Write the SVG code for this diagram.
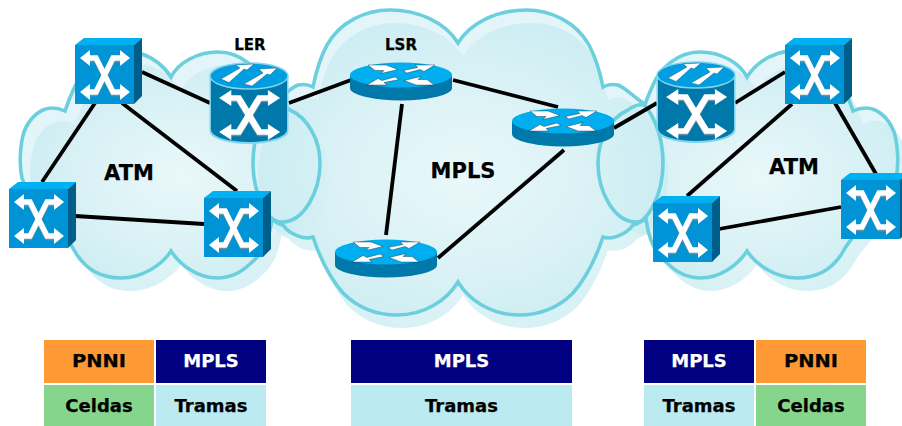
<svg xmlns="http://www.w3.org/2000/svg" xmlns:xlink="http://www.w3.org/1999/xlink" width="902" height="426" viewBox="0 0 902 426">
<style>
text{font-family:"DejaVu Sans","Liberation Sans",sans-serif;font-weight:bold;text-anchor:middle;fill:#000;stroke:#000;stroke-width:.25px}
.big{font-size:21px}.sm{font-size:15px}.tb{font-size:18px}
text.w{fill:#fff;stroke:#fff}
.edge{fill:none;stroke:#6ccfde;stroke-width:3.6}
.rim{fill:#d9f2f6;opacity:.75}
.shade{fill:url(#cg);opacity:.7}
.conn line{stroke:#000;stroke-width:3.8}
.glyph{fill:none;stroke:#fff;stroke-width:5.5}
.gsh{fill:none;stroke:#6f8ea0;stroke-width:5.5}
</style>
<defs>
<radialGradient id="cg" cx=".5" cy=".5" r=".55"><stop offset="0" stop-color="#ecf9fb"/><stop offset=".6" stop-color="#d5f0f4"/><stop offset="1" stop-color="#c2eaf0"/></radialGradient>
<path id="atmc" d="M171,77C178,63 197,52 218,52C240,52 258,68 265,85C268,92 271,98 273,105C280,104 285,106 290,110C308,118 320,140 320,163C320,192 304,221 283,222C279,222 275,221 272,219C270,235 265,252 251,263C240,274 228,278 217,278C198,278 180,265 171,251C162,265 142,278 121,278C100,278 84,268 74,250C62,228 30,205 22,178C19,165 20,145 24,132C30,116 42,108 52,108C57,108 61,109 65,111C72,90 85,62 106,52C125,47 155,52 171,77Z"/>
<path id="mplsc" d="M458,43C445,22 418,10 390,10C365,10 340,22 327,45C320,58 316,72 313,87C308,84 304,84 298,85C292,87 288,92 273,103C260,118 253,140 253,163C253,195 268,222 283,225C290,235 305,240 313,237C320,258 330,278 343,293C358,308 377,315 397,315C425,315 447,300 458,282C469,300 491,315 519,315C539,315 558,308 573,293C586,278 596,258 603,237C611,240 626,235 633,225C648,222 663,195 663,163C663,140 656,118 643,103C628,92 624,87 618,85C612,84 608,84 603,87C600,72 596,58 589,45C576,22 551,10 526,10C498,10 471,22 458,43Z"/>
<g id="xg"><path class="gsh" transform="translate(0,1.5)" d="M12,13H21L38,47H48M48,13H38L21,47H12"/><path class="glyph" d="M12,13H21L38,47H48M48,13H38L21,47H12"/><path fill="#fff" d="M15,5V21L5,13ZM15,39V55L5,47ZM45,5V21L55,13ZM45,39V55L55,47Z"/></g>
<g id="sw"><path fill="#00b0f0" d="M0,0L9,-7H67L59,0Z"/><path fill="#005f8a" d="M59,0L67,-7V51L59,59Z"/><rect width="59" height="59" fill="#0093d6"/><use xlink:href="#xg" href="#xg"/></g>
<path id="arrIn" d="M-33,-10L-15,-10L-3,-5.500L-20,-1.500L-17,-4.500L-26,-4.500Z" fill="#fff" stroke="#123" stroke-width=".4"/>
<path id="arrOut" d="M34,-10L14,-10L17,-7.500L2,-4.500L6,-2L19,-5.500L23,-3.500Z" fill="#fff" stroke="#123" stroke-width=".4"/>
<g id="rt"><path d="M-51,0V13A51,12.500 0 0 0 51,13V0Z" fill="#0079aa"/><ellipse rx="51" ry="12.500" fill="#00aeef"/><use href="#arrIn" xlink:href="#arrIn"/><use href="#arrOut" xlink:href="#arrOut"/><use href="#arrOut" xlink:href="#arrOut" transform="rotate(180)"/><use href="#arrIn" xlink:href="#arrIn" transform="rotate(180)"/></g>
<g id="lr"><path d="M-39.500,0V55A39.500,13 0 0 0 39.500,55V0Z" fill="#7fd4ef"/><path d="M-38,0V54A38,12 0 0 0 38,54V0Z" fill="#0079aa"/><ellipse rx="39" ry="13" fill="#009ee0" stroke="#7fd4ef" stroke-width="1.500"/><path d="M-28,3L-9,-8L-13,-11L5,-12L-2,-6L-5,-7L-20,6.500ZM-5,8L14,-3L10,-7L28,-8L21,-1L18,-2L3,10Z" fill="#fff" stroke="#0b4a6b" stroke-width=".4"/><use href="#xg" xlink:href="#xg" transform="translate(-36,9) scale(1.22,1)"/></g>
</defs>

<g id="clouds">
<use href="#atmc" xlink:href="#atmc" class="rim"/>
<use href="#atmc" xlink:href="#atmc" class="shade" transform="translate(10,13)"/>
<use href="#atmc" xlink:href="#atmc" class="rim" transform="translate(918,0) scale(-1,1)"/>
<use href="#atmc" xlink:href="#atmc" class="shade" transform="translate(928,13) scale(-1,1)"/>
<use href="#mplsc" xlink:href="#mplsc" class="rim"/>
<use href="#mplsc" xlink:href="#mplsc" class="shade" transform="translate(5,13)"/>
<use href="#atmc" xlink:href="#atmc" class="edge"/>
<use href="#atmc" xlink:href="#atmc" class="edge" transform="translate(918,0) scale(-1,1)"/>
<use href="#mplsc" xlink:href="#mplsc" class="edge"/>
</g>

<g id="connectors" class="conn">
<line x1="142" y1="72" x2="210" y2="103"/>
<line x1="95" y1="103" x2="42" y2="182"/>
<line x1="122" y1="103" x2="237" y2="191"/>
<line x1="75" y1="216" x2="204" y2="224"/>
<line x1="289" y1="103" x2="351" y2="80"/>
<line x1="453" y1="80" x2="558" y2="107"/>
<line x1="402" y1="104" x2="386" y2="235"/>
<line x1="564" y1="150" x2="438" y2="258"/>
<line x1="614" y1="128" x2="657" y2="103"/>
<line x1="735" y1="103" x2="785" y2="72"/>
<line x1="792" y1="104" x2="687" y2="196"/>
<line x1="835" y1="103" x2="876" y2="174"/>
<line x1="719" y1="229" x2="841" y2="207"/>
</g>

<g id="atm-l1"><use href="#sw" xlink:href="#sw" x="75" y="45"/></g>
<g id="atm-l2"><use href="#sw" xlink:href="#sw" x="9" y="189"/></g>
<g id="atm-l3"><use href="#sw" xlink:href="#sw" x="204" y="198"/></g>
<g id="ler-l"><use href="#lr" xlink:href="#lr" x="249" y="76"/><text class="sm" x="250" y="50">LER</text></g>
<g id="lsr-1"><use href="#rt" xlink:href="#rt" x="401" y="75"/><text class="sm" x="401" y="50">LSR</text></g>
<g id="lsr-2"><use href="#rt" xlink:href="#rt" x="563" y="121"/></g>
<g id="lsr-3"><use href="#rt" xlink:href="#rt" x="386" y="252"/></g>
<g id="ler-r"><use href="#lr" xlink:href="#lr" x="696" y="75"/></g>
<g id="atm-r1"><use href="#sw" xlink:href="#sw" x="785" y="45"/></g>
<g id="atm-r2"><use href="#sw" xlink:href="#sw" x="653" y="203"/></g>
<g id="atm-r3"><use href="#sw" xlink:href="#sw" x="841" y="180"/></g>

<g id="labels">
<text class="big" x="129" y="180">ATM</text>
<text class="big" x="463" y="178">MPLS</text>
<text class="big" x="794" y="174">ATM</text>
</g>

<g id="stack-left">
<rect x="44" y="340" width="110" height="43" fill="#ff9933"/><text class="tb" x="99" y="367" textLength="54" lengthAdjust="spacingAndGlyphs">PNNI</text>
<rect x="156" y="340" width="110" height="43" fill="#000080"/><text class="tb w" x="211" y="367">MPLS</text>
<rect x="44" y="385" width="110" height="41" fill="#85d68c"/><text class="tb" x="99" y="412">Celdas</text>
<rect x="156" y="385" width="110" height="41" fill="#bbebf0"/><text class="tb" x="211" y="412">Tramas</text>
</g>
<g id="stack-mid">
<rect x="351" y="340" width="221" height="43" fill="#000080"/><text class="tb w" x="461.500" y="367">MPLS</text>
<rect x="351" y="385" width="221" height="41" fill="#bbebf0"/><text class="tb" x="461.500" y="412">Tramas</text>
</g>
<g id="stack-right">
<rect x="644" y="340" width="110" height="43" fill="#000080"/><text class="tb w" x="699" y="367">MPLS</text>
<rect x="756" y="340" width="110" height="43" fill="#ff9933"/><text class="tb" x="811" y="367" textLength="54" lengthAdjust="spacingAndGlyphs">PNNI</text>
<rect x="644" y="385" width="110" height="41" fill="#bbebf0"/><text class="tb" x="699" y="412">Tramas</text>
<rect x="756" y="385" width="110" height="41" fill="#85d68c"/><text class="tb" x="811" y="412">Celdas</text>
</g>
</svg>
